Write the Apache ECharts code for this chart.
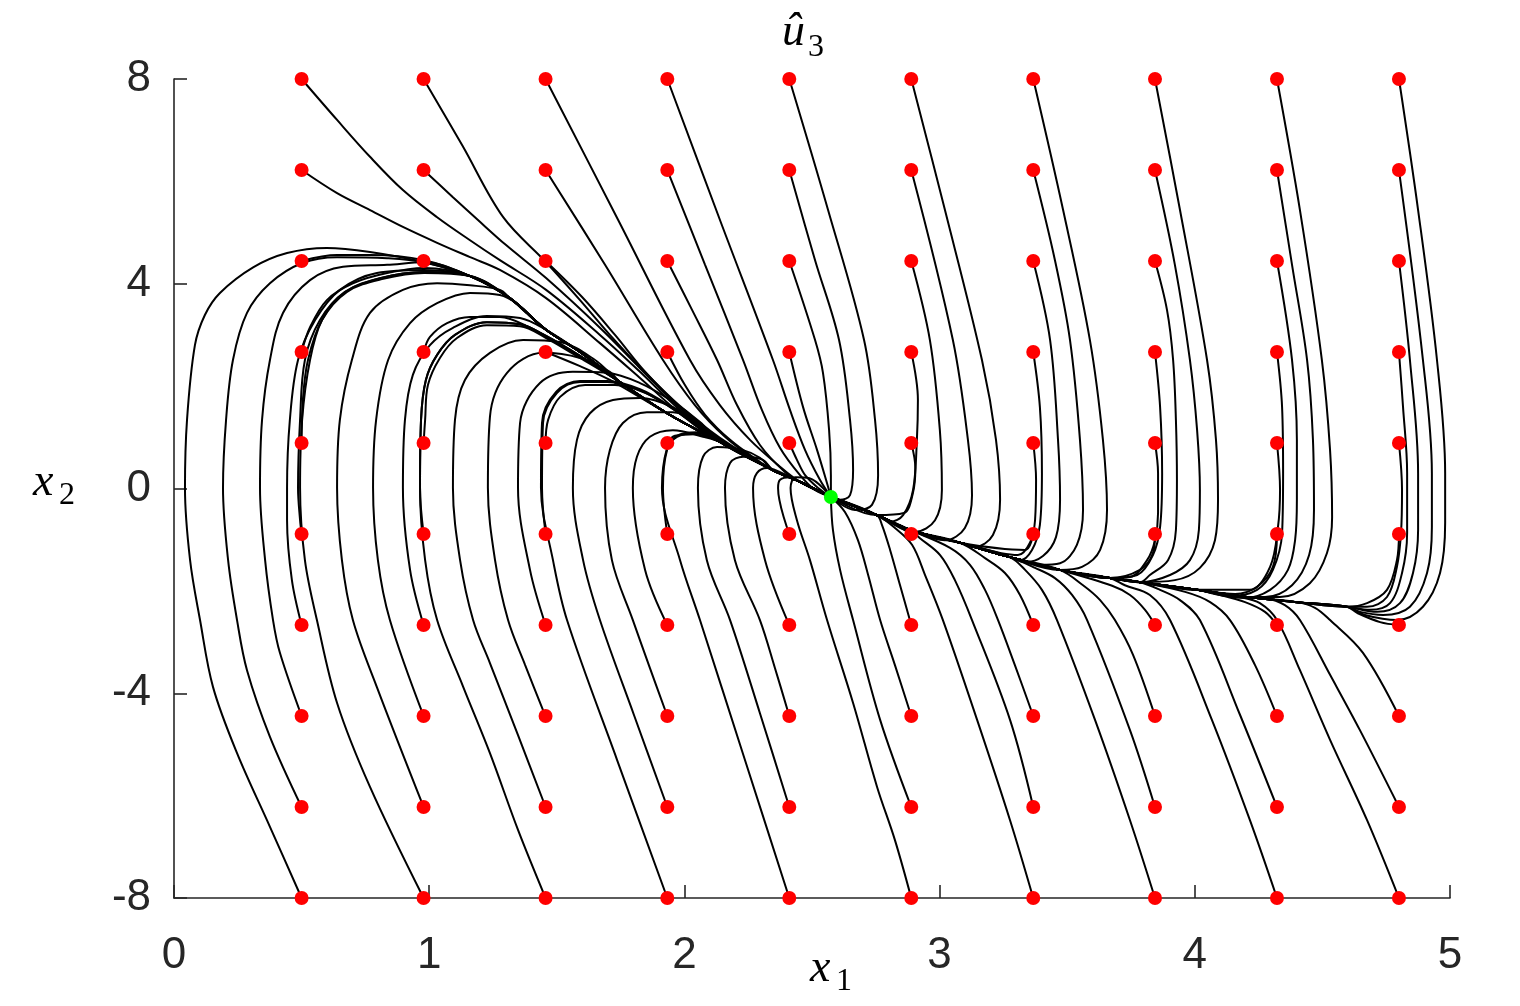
<!DOCTYPE html>
<html><head><meta charset="utf-8">
<script src="https://cdn.jsdelivr.net/npm/echarts/dist/echarts.min.js"></script>
<style>html,body{margin:0;padding:0;background:#fff}#c{width:1520px;height:1006px}</style>
</head><body><div id="c"></div>
<script>
// grid of initial states (red dots)
const xStarts = [0.5, 0.978, 1.456, 1.933, 2.411, 2.889, 3.367, 3.844, 4.322, 4.8];
const yStarts = [-8, -6.222, -4.444, -2.667, -0.889, 0.889, 2.667, 4.444, 6.222, 8];
const equilibrium = [2.574, -0.166];
const xTicks = [0, 1, 2, 3, 4, 5];
const yTicks = [-8, -4, 0, 4, 8];

// shared slow-manifold branches that trajectories merge into
const manifoldUL = [[0.98,4.42],[1.16,4.15],[1.316,3.72],[1.458,3.10],[1.591,2.67],[1.747,2.08],[1.932,1.47],[2.139,0.91],[2.347,0.36],[2.453,0.13],[2.574,-0.166]];
const manifoldLR = [[4.764,-2.41],[4.596,-2.31],[4.400,-2.22],[4.204,-2.12],[4.008,-1.98],[3.785,-1.83],[3.667,-1.75],[3.471,-1.59],[3.275,-1.34],[3.080,-1.06],[2.884,-0.81],[2.754,-0.52],[2.574,-0.166]];

// trajectories per column (rows bottom->top); last entry tells where it merges: U=upper-left branch, L=lower-right branch, index
const col0 = [
 [[0.376,-6.61],[0.247,-5.17],[0.153,-3.88],[0.102,-2.57],[0.063,-1.40],[0.043,0.01],[0.051,1.34],[0.082,2.80],[0.121,3.39],[0.180,3.82],[0.310,4.32],[0.443,4.60],[0.599,4.70],[0.768,4.62],'U0'],
 [[0.376,-4.85],[0.286,-3.55],[0.247,-2.57],[0.212,-1.40],[0.192,0.01],[0.204,1.34],[0.231,2.51],[0.286,3.43],[0.376,4.01],[0.505,4.41],[0.639,4.52],[0.835,4.50],'U0'],
 [[0.415,-3.21],[0.388,-2.57],[0.357,-1.40],[0.337,0.01],[0.345,1.34],[0.376,2.51],[0.427,3.43],[0.533,4.07],[0.662,4.33],[0.835,4.37],'U0'],
 [[0.462,-1.79],[0.443,-0.62],[0.443,0.01],[0.454,1.34],[0.486,2.51],[0.553,3.29],[0.650,3.88],[0.795,4.21],[0.98,4.27],'U1'],
 [[0.494,-0.62],[0.486,0.01],[0.494,1.34],[0.513,2.51],[0.572,3.29],[0.670,3.84],[0.807,4.11],[0.98,4.23],'U1'],
 [[0.505,1.73],[0.525,2.51],[0.580,3.29],[0.678,3.84],[0.815,4.09],[0.98,4.21],'U1'],
 [[0.533,3.15],[0.599,3.68],[0.701,4.01],[0.835,4.21],[0.98,4.31],'U1'],
 [[0.639,4.56],[0.768,4.56],[0.98,4.46],'U1'],
 [[0.639,5.77],[0.768,5.44],[0.897,5.11],[1.031,4.80],[1.160,4.52],[1.277,4.27],[1.458,3.72],[1.669,2.84],[1.826,2.16],[1.983,1.47],[2.139,0.93],'U8'],
 [[0.639,7.20],[0.768,6.48],[0.897,5.83],[1.031,5.30],[1.160,4.85],[1.277,4.46],[1.458,3.88],[1.669,3.00],[1.826,2.28],[1.983,1.53],[2.139,0.95],'U8']
];
const col1 = [
 [[0.768,-5.83],[0.639,-4.19],[0.560,-2.57],[0.513,-1.40],[0.494,0.01],[0.502,1.34],[0.533,2.51],[0.580,3.29],[0.670,3.84],[0.807,4.11],[0.98,4.23],'U1'],
 [[0.795,-3.88],[0.701,-2.57],[0.658,-1.40],[0.639,0.01],[0.650,1.34],[0.697,2.51],[0.768,3.43],[0.897,3.88],[1.031,4.01],[1.160,3.97],[1.277,3.88],'U2'],
 [[0.846,-2.57],[0.799,-1.40],[0.780,0.01],[0.792,1.34],[0.839,2.51],[0.925,3.23],[1.031,3.62],[1.160,3.82],[1.277,3.78],'U3'],
 [[0.925,-1.59],[0.897,0.01],[0.905,1.34],[0.936,2.22],[1.003,2.80],[1.093,3.14],[1.226,3.37],[1.356,3.33],'U3'],
 [[0.964,0.01],[0.968,1.34],[0.987,2.12],[1.031,2.61],[1.101,3.00],[1.226,3.25],[1.356,3.21],[1.458,2.98],[1.591,2.59],'U5'],
 [[0.984,1.34],[0.995,2.02],[1.042,2.55],[1.109,2.94],[1.226,3.19],[1.356,3.17],[1.458,2.94],[1.591,2.55],'U5'],
 [[1.003,2.96],[1.070,3.23],[1.160,3.35],[1.277,3.35],[1.395,3.14],[1.513,2.80],[1.630,2.47],'U5'],
 ['U1'],
 [[1.093,5.69],[1.190,5.25],[1.300,4.76],[1.458,4.11],[1.669,3.14],[1.826,2.35],[1.983,1.57],[2.139,0.97],'U8'],
 [[1.130,6.70],[1.290,5.30],[1.458,4.42],[1.591,3.68],[1.708,3.00],[1.826,2.37],[1.983,1.61],[2.139,0.99],'U8']
];
const col2 = [
 [[1.348,-6.67],[1.238,-5.17],[1.132,-3.86],[1.031,-2.57],[0.984,-1.40],[0.964,0.01],[0.968,1.34],[0.987,2.12],[1.031,2.61],[1.101,3.00],[1.226,3.25],[1.356,3.21],[1.458,2.98],[1.591,2.59],'U5'],
 [[1.348,-4.82],[1.238,-3.41],[1.172,-2.57],[1.121,-1.40],[1.093,0.01],[1.101,1.34],[1.140,2.12],[1.238,2.65],[1.368,2.90],[1.513,2.86],[1.650,2.51],'U5'],
 [[1.446,-4.33],[1.376,-3.45],[1.309,-2.57],[1.258,-1.40],[1.230,0.01],[1.238,1.40],[1.305,2.26],[1.446,2.65],[1.591,2.55],[1.708,2.28],'U5'],
 [[1.395,-1.59],[1.348,0.01],[1.356,1.28],[1.434,2.06],[1.563,2.28],[1.697,2.26],[1.826,2.06],[1.944,1.73],[2.061,1.30],'U7'],
 [[1.442,0.01],[1.446,1.28],[1.501,1.87],[1.591,2.08],[1.697,2.08],[1.826,1.92],[1.944,1.59],[2.061,1.18],'U7'],
 [[1.466,1.34],[1.513,1.79],[1.611,2.02],[1.728,2.02],[1.846,1.87],[1.963,1.53],[2.061,1.16],'U7'],
 [[1.591,2.39],[1.708,2.12],'U6'],
 [[1.599,3.74],[1.728,3.00],[1.846,2.28],[1.995,1.53],[2.139,0.95],'U8'],
 [[1.689,4.37],[1.916,2.51],[2.041,1.63],[2.159,1.01],[2.277,0.56],'U8'],
 [[1.740,5.25],[2.022,2.51],[2.139,1.63],[2.257,0.95],[2.367,0.46],'U9']
];
const col3 = [
 [[1.736,-5.30],[1.540,-2.57],[1.485,-1.40],[1.438,0.01],[1.442,1.28],[1.498,1.89],[1.591,2.10],[1.697,2.10],[1.826,1.94],[1.944,1.61],[2.061,1.20],'U7'],
 [[1.802,-4.42],[1.669,-2.57],[1.603,-1.40],[1.563,0.01],[1.579,0.95],[1.630,1.47],[1.720,1.73],[1.826,1.77],[1.955,1.59],[2.061,1.24],'U7'],
 [[1.865,-3.51],[1.798,-2.57],[1.716,-1.40],[1.689,0.01],[1.708,0.75],[1.759,1.28],[1.853,1.49],[1.955,1.49],[2.049,1.30],'U7'],
 [[1.846,-1.59],[1.798,0.01],[1.814,0.62],[1.865,1.01],[1.955,1.14],[2.073,1.01],'U7'],
 [[1.916,0.01],[1.932,0.75],[1.971,1.01],[2.049,1.08],'U7'],
 [[1.963,1.03],[2.041,1.06],'U7'],
 [[2.002,2.02],[2.081,1.44],[2.179,0.95],[2.296,0.52],'U8'],
 [[2.030,3.49],[2.128,2.51],[2.206,1.63],[2.296,0.85],[2.394,0.32],'U9'],
 [[2.081,4.37],[2.230,2.51],[2.304,1.53],[2.375,0.79],[2.453,0.26],[2.512,-0.03],'U10'],
 [[2.139,5.25],[2.347,2.51],[2.414,1.53],[2.473,0.75],[2.531,0.17],'U10']
];
const col4 = [
 [[2.237,-5.30],[2.061,-2.57],[1.983,-1.40],[1.912,0.01],[1.930,0.75],[1.971,1.03],[2.049,1.10],'U7'],
 [[2.296,-4.39],[2.179,-2.57],[2.088,-1.40],[2.053,0.01],[2.073,0.62],[2.128,0.81],[2.230,0.75],[2.296,0.60],'U8'],
 [[2.355,-3.51],[2.296,-2.57],[2.198,-1.40],[2.159,0.01],[2.179,0.50],[2.230,0.62],[2.308,0.56],'U8'],
 [[2.316,-1.40],[2.269,0.01],[2.284,0.30],[2.324,0.40],[2.375,0.32],'U9'],
 [[2.367,0.01],[2.375,0.17],[2.414,0.22],'U9'],
 [[2.441,0.56],[2.473,0.26],[2.524,0.01],'U10'],
 [[2.465,1.59],[2.520,0.75],[2.555,0.17],'U10'],
 [[2.512,2.90],[2.543,2.26],[2.567,1.14],[2.574,0.26],'U10'],
 [[2.512,4.46],[2.606,2.90],[2.649,1.34],[2.661,0.36],[2.649,-0.13],[2.610,-0.22],'U10'],
 [[2.563,5.44],[2.704,2.90],[2.747,1.34],[2.759,0.26],[2.735,-0.32],[2.669,-0.42],'U10']
];
const col5 = [
 [[2.825,-6.87],[2.755,-5.83],[2.661,-4.19],[2.559,-2.57],[2.492,-1.40],[2.441,-0.62],[2.416,0.01],[2.435,0.22],[2.490,0.20],'U10'],
 [[2.767,-4.52],[2.661,-2.57],[2.610,-1.59],[2.582,-0.81],'U10'],
 [[2.825,-3.45],[2.767,-2.57],[2.720,-1.69],[2.680,-1.01],[2.629,-0.46],'U10'],
 [[2.845,-1.89],[2.806,-1.20],[2.774,-0.71],'L11'],
 ['L11'],
 [[2.905,0.40],[2.895,-0.10],[2.860,-0.48],'L11'],
 [[2.915,1.73],[2.911,0.95],[2.896,-0.03],[2.857,-0.52],[2.806,-0.65],'L11'],
 [[2.962,2.90],[3.001,1.14],[3.009,-0.03],[2.982,-0.62],[2.904,-0.85],'L11'],
 [[3.052,2.90],[3.111,0.95],[3.127,-0.13],[3.099,-0.77],[3.021,-1.01],'L10'],
 [[3.021,5.44],[3.166,2.51],[3.221,0.95],[3.237,-0.22],[3.209,-0.91],[3.139,-1.14],'L9']
];
const col6 = [
 [[3.276,-6.48],[3.147,-4.52],[3.013,-2.57],[2.943,-1.69],[2.892,-1.10],[2.825,-0.77],'L11'],
 [[3.276,-4.52],[3.127,-2.57],[3.060,-1.79],[3.002,-1.30],[2.923,-0.97],'L10'],
 [[3.295,-3.45],[3.229,-2.57],[3.178,-1.98],[3.119,-1.49],[3.041,-1.16],'L10'],
 [[3.315,-2.08],[3.256,-1.65],[3.178,-1.36],'L9'],
 [[3.335,-1.20],'L9'],
 [[3.378,0.17],[3.374,-0.62],[3.354,-1.06],[3.307,-1.30],'L9'],
 [[3.393,1.59],[3.401,0.30],[3.393,-0.71],[3.362,-1.20],[3.315,-1.40],'L8'],
 [[3.433,2.90],[3.464,0.95],[3.472,-0.22],[3.456,-0.95],[3.405,-1.32],[3.335,-1.44],'L8'],
 [[3.452,4.46],[3.511,2.90],[3.550,0.95],[3.562,-0.42],[3.538,-1.10],[3.472,-1.46],[3.393,-1.49],'L8'],
 [[3.484,5.44],[3.589,2.90],[3.640,0.95],[3.656,-0.42],[3.629,-1.20],[3.558,-1.53],'L7']
];
const col7 = [
 [[3.746,-6.48],[3.609,-4.52],[3.460,-2.57],[3.401,-1.98],[3.335,-1.59],'L8'],
 [[3.746,-4.72],[3.578,-2.57],[3.519,-2.08],[3.452,-1.75],[3.374,-1.55],'L8'],
 [[3.758,-3.25],[3.687,-2.57],[3.629,-2.18],[3.562,-1.89],'L7'],
 [[3.805,-2.37],[3.746,-2.08],[3.676,-1.90],'L7'],
 [[3.836,-1.26],[3.785,-1.59],'L6'],
 [[3.856,0.30],[3.856,-0.48],[3.844,-1.01],[3.813,-1.40],[3.746,-1.73],'L6'],
 [[3.864,1.59],[3.872,0.30],[3.864,-0.75],[3.836,-1.30],[3.774,-1.69],'L6'],
 [[3.891,3.49],[3.915,2.51],[3.926,1.34],[3.930,0.17],[3.926,-0.81],[3.895,-1.40],[3.824,-1.69],'L5'],
 [[3.922,4.37],[3.981,2.51],[4.009,1.14],[4.020,-0.03],[4.016,-0.81],[3.981,-1.40],[3.903,-1.69],'L5'],
 [[3.942,5.44],[4.048,2.51],[4.083,0.95],[4.091,-0.22],[4.079,-1.01],[4.020,-1.55],[3.922,-1.79],'L5']
];
const col8 = [
 [[4.216,-6.48],[4.067,-4.52],[3.903,-2.57],[3.824,-2.08],[3.726,-1.89],'L6'],
 [[4.177,-4.42],[4.020,-2.57],[3.942,-2.18],[3.864,-1.98],'L5'],
 [[4.236,-3.45],[4.138,-2.57],[4.060,-2.22],[3.962,-2.02],'L5'],
 [[4.275,-2.41],[4.197,-2.22],[4.099,-2.08],'L4'],
 [[4.306,-1.53],[4.244,-1.92],[4.158,-2.06],'L4'],
 [[4.334,-0.03],[4.326,-0.75],[4.295,-1.53],[4.216,-1.98],'L4'],
 [[4.342,1.59],[4.346,0.30],[4.342,-0.87],[4.306,-1.59],[4.244,-1.98],[4.138,-2.10],'L4'],
 [[4.381,2.51],[4.400,0.95],[4.400,-0.22],[4.393,-1.01],[4.365,-1.59],[4.295,-1.98],[4.197,-2.14],'L4'],
 [[4.381,4.37],[4.440,2.51],[4.463,0.95],[4.467,-0.42],[4.448,-1.30],[4.381,-1.89],[4.275,-2.12],'L3'],
 [[4.412,5.44],[4.498,2.51],[4.530,0.75],[4.538,-0.56],[4.518,-1.26],[4.451,-1.85],[4.334,-2.12],'L3']
];
const col9 = [
 [[4.675,-6.48],[4.530,-4.91],[4.412,-3.55],[4.322,-2.57],[4.255,-2.24],[4.177,-2.12],'L4'],
 [[4.647,-4.72],[4.530,-3.64],[4.412,-2.57],[4.353,-2.28],[4.275,-2.14],'L3'],
 [[4.659,-3.21],[4.530,-2.57],[4.471,-2.33],'L2'],
 [[4.726,-2.61],[4.636,-2.43],'L1'],
 [[4.792,-1.40],[4.753,-1.98],[4.675,-2.24],'L1'],
 [[4.812,-0.03],[4.808,-0.87],[4.792,-1.53],[4.753,-2.12],[4.675,-2.31],'L1'],
 [[4.816,1.59],[4.832,0.30],[4.832,-0.87],[4.812,-1.65],[4.765,-2.24],[4.686,-2.37],'L1'],
 [[4.843,2.51],[4.875,0.30],[4.875,-0.81],[4.855,-1.65],[4.804,-2.24],[4.714,-2.41],'L1'],
 [[4.894,2.51],[4.929,0.30],[4.929,-0.75],[4.910,-1.65],[4.843,-2.31],[4.738,-2.47],[4.647,-2.41],'L1'],
 [[4.875,5.44],[4.949,2.51],[4.981,0.30],[4.981,-0.67],[4.961,-1.65],[4.894,-2.31],[4.792,-2.57],[4.667,-2.47],'L1']
];

const columns = [col0, col1, col2, col3, col4, col5, col6, col7, col8, col9];
const joinTables = { U: manifoldUL, L: manifoldLR };
const series = [];
columns.forEach((col, i) => col.forEach((tr, j) => {
  const tag = tr[tr.length - 1];
  const own = tr.slice(0, -1);
  const tail = joinTables[tag[0]].slice(parseInt(tag.slice(1), 10));
  series.push({
    type: 'line', data: [[xStarts[i], yStarts[j]]].concat(own, tail),
    smooth: 0.35, symbol: 'none', silent: true, z: 2,
    lineStyle: { color: '#000', width: 2 }
  });
}));
const dots = [];
xStarts.forEach(x => yStarts.forEach(y => dots.push([x, y])));
series.push({ type: 'scatter', data: dots, symbolSize: 14, silent: true, z: 5, itemStyle: { color: '#ff0000', opacity: 1 } });
series.push({ type: 'scatter', data: [equilibrium], symbolSize: 14, silent: true, z: 6, itemStyle: { color: '#00ff00', opacity: 1 } });

const axisColor = '#262626';
const tickFont = { fontFamily: 'Liberation Sans, Arial, sans-serif', fontSize: 44, color: axisColor };
const mathFont = 'Liberation Serif, DejaVu Serif, serif';

const chart = echarts.init(document.getElementById('c'), null, { renderer: 'canvas' });
chart.setOption({
  animation: false,
  backgroundColor: '#fff',
  grid: { left: 174, right: 70, top: 79, bottom: 108, containLabel: false },
  xAxis: {
    type: 'value', min: xTicks[0], max: xTicks[xTicks.length - 1], interval: 1,
    axisLine: { show: true, onZero: false, lineStyle: { color: axisColor, width: 1.6 } },
    axisTick: { show: true, inside: true, length: 13, lineStyle: { color: axisColor, width: 1.6 } },
    axisLabel: Object.assign({ margin: 36 }, tickFont),
    splitLine: { show: false }
  },
  yAxis: {
    type: 'value', min: yTicks[0], max: yTicks[yTicks.length - 1], interval: 4,
    axisLine: { show: true, onZero: false, lineStyle: { color: axisColor, width: 1.6 } },
    axisTick: { show: true, inside: true, length: 13, lineStyle: { color: axisColor, width: 1.6 } },
    axisLabel: Object.assign({ margin: 23 }, tickFont),
    splitLine: { show: false }
  },
  graphic: [
    { type: 'text', left: 782, top: 10, style: { text: 'û', font: 'italic 46px ' + mathFont, fill: '#000' } },
    { type: 'text', left: 808, top: 32, style: { text: '3', font: '32px ' + mathFont, fill: '#000' } },
    { type: 'text', left: 810, top: 946, style: { text: 'x', font: 'italic 46px ' + mathFont, fill: '#000' } },
    { type: 'text', left: 836, top: 966, style: { text: '1', font: '32px ' + mathFont, fill: '#000' } },
    { type: 'text', left: 33, top: 460, style: { text: 'x', font: 'italic 46px ' + mathFont, fill: '#000' } },
    { type: 'text', left: 59, top: 480, style: { text: '2', font: '32px ' + mathFont, fill: '#000' } }
  ],
  series: series
});
</script>
</body></html>
